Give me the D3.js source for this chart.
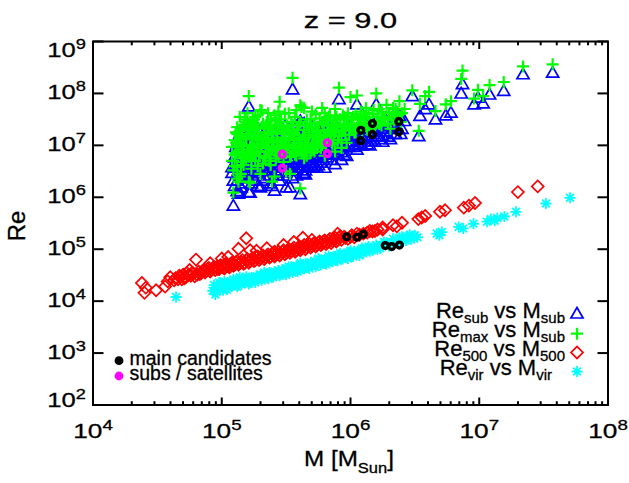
<!DOCTYPE html>
<html><head><meta charset="utf-8">
<script src="https://cdn.jsdelivr.net/npm/d3@7"></script>
<style>html,body{margin:0;padding:0;background:#fff;} svg{display:block;font-family:"Liberation Sans",Arial,Helvetica,sans-serif;} text{stroke:#000;stroke-width:0.3px;}</style>
</head><body><svg id="c" width="629" height="483"></svg>
<script>
// ---------------- DATA (log10 values) ----------------
const titleText = "z = 9.0";
const xTickExps = [4, 5, 6, 7, 8];
const yTickExps = [2, 3, 4, 5, 6, 7, 8, 9];

// [log10 M_sub, log10 Re_sub, log10 Re_max]
const subHalos = [
 [5.08,6.56,6.97],[5.09,5.82,6.09],[5.10,6.75,7.10],[5.09,6.30,6.52],[5.11,6.62,6.85],[5.12,6.10,6.36],[5.08,6.45,6.70],[5.12,6.90,7.22],[5.10,6.20,6.60],[5.13,6.05,6.30],
 [5.14,6.07,6.40],[5.15,6.17,6.45],[5.15,6.60,7.05],[5.16,6.85,7.30],[5.17,6.40,6.80],[5.18,6.95,7.40],[5.17,6.25,6.62],[5.19,6.70,7.15],[5.20,6.50,6.92],[5.18,7.10,7.50],[5.14,6.80,7.18],[5.16,6.35,6.75],
 [5.21,6.08,6.30],[5.21,7.73,7.95],[5.22,6.07,6.28],[5.23,6.65,7.00],[5.24,6.40,6.85],[5.25,6.90,7.35],[5.26,7.05,7.55],[5.27,6.55,6.98],[5.28,6.20,6.60],[5.29,6.78,7.20],[5.24,7.20,7.48],[5.26,6.30,6.70],[5.30,6.17,6.45],[5.30,7.00,7.68],[5.28,6.45,6.88],[5.23,6.95,7.30],
 [5.31,7.30,7.67],[5.32,6.60,7.05],[5.33,6.85,7.25],[5.34,6.35,6.75],[5.35,7.10,7.45],[5.36,6.50,6.95],[5.37,6.95,7.40],[5.38,6.25,6.62],[5.39,6.20,6.30],[5.40,6.75,7.15],[5.41,6.11,6.40],[5.42,7.00,7.52],[5.43,6.60,7.00],[5.44,6.40,6.80],[5.45,6.90,7.84],[5.45,6.46,6.90],[5.35,6.70,7.12],[5.41,7.20,7.58],
 [5.46,7.15,7.50],[5.47,6.55,6.95],[5.48,6.80,7.25],[5.49,7.35,7.61],[5.50,6.17,6.50],[5.51,6.95,7.35],[5.52,6.60,7.02],[5.53,6.17,6.45],[5.54,7.05,7.45],[5.55,8.06,8.30],[5.55,6.50,6.90],[5.56,6.75,7.15],[5.57,7.20,7.55],[5.58,6.40,6.80],[5.59,6.85,7.30],[5.60,6.55,6.95],
 [5.61,6.04,6.17],[5.61,7.45,7.77],[5.62,7.30,7.74],[5.62,6.70,7.10],[5.63,6.45,6.85],[5.64,6.43,6.75],[5.65,6.42,6.90],[5.66,7.00,7.40],[5.67,6.60,7.05],[5.68,6.80,7.25],[5.69,7.15,7.50],[5.70,6.65,7.00],[5.71,6.56,6.92],[5.72,6.95,7.35],[5.73,7.25,7.60],[5.74,6.55,6.95],
 [5.76,6.75,7.15],[5.78,7.05,7.45],[5.79,6.70,7.10],[5.80,7.30,7.62],[5.81,6.85,7.20],[5.83,7.15,7.55],[5.84,6.80,7.18],[5.86,7.00,7.40],[5.88,7.40,7.70],[5.89,6.90,7.28],[5.91,7.87,8.11],[5.92,7.10,7.50],[5.94,7.20,7.58],[5.95,6.95,7.35],
 [5.80,6.55,6.80],[5.88,6.62,6.88],[5.93,6.70,6.95],
 [5.97,6.78,7.05],[5.98,7.15,7.55],[6.00,7.35,7.93],[6.02,7.05,7.42],[6.04,7.25,7.60],[6.05,7.77,7.96],[6.06,7.00,7.35],[6.08,7.30,7.65],[6.10,7.10,7.50],[6.12,7.40,7.72],[6.14,7.05,7.45],
 [6.17,7.25,7.60],[6.20,7.77,8.00],[6.22,7.35,7.70],[6.25,7.15,7.55],[6.28,7.45,7.78],[6.31,7.10,7.32],[6.33,7.40,7.72],[6.36,7.35,7.65],[6.38,7.55,7.85],[6.40,7.30,7.62],
 [5.85,6.70,7.25],[5.95,6.80,7.30],[6.05,6.90,7.35],[6.15,6.98,7.45],[6.25,7.05,7.55],[6.35,7.20,7.60],[5.75,6.60,7.10],[5.65,6.50,7.00],[5.55,6.35,6.95],[5.45,6.30,6.85],
 [6.42,7.45,7.70],[6.48,7.93,8.06],[6.53,7.16,7.28],[6.54,7.55,7.80],[6.58,7.68,7.95],[6.61,7.77,8.03],[6.66,7.48,7.66],[6.74,7.56,7.79],[6.78,7.61,7.85],[6.86,7.98,8.28],[6.87,8.16,8.44],[6.96,7.77,7.90],[6.99,7.90,8.07],[7.03,7.79,7.95],[7.08,7.96,8.16],[7.19,8.03,8.22],[7.34,8.35,8.52],[7.57,8.38,8.56],
 [5.11,6.95,7.25],[5.13,6.50,6.88],[5.15,6.90,7.15],[5.17,6.60,7.00],[5.19,6.35,6.72],[5.20,6.85,7.30],[5.21,6.45,6.78],[5.23,6.25,6.55],[5.25,6.60,6.95],[5.26,6.80,7.18],[5.27,7.10,7.40],[5.29,6.50,6.80],[5.31,6.90,7.10],[5.32,6.30,6.65],[5.33,7.05,7.35],[5.34,6.75,6.98],[5.36,6.85,7.22],[5.37,6.40,6.70],[5.38,7.15,7.48],[5.39,6.65,6.92],[5.40,6.95,7.30],[5.42,6.50,6.75],[5.43,6.80,7.10],[5.44,7.10,7.40],[5.46,6.60,6.85],[5.47,6.90,7.15],[5.48,6.40,6.68],[5.49,7.00,7.28],[5.50,6.70,6.98],[5.52,6.85,7.12],[5.53,6.50,6.78],[5.54,6.70,7.20],[5.56,6.95,7.22],[5.57,6.55,6.82],[5.58,6.80,7.05],[5.60,7.00,7.40],[5.62,6.65,6.88],[5.63,6.95,7.20],[5.65,6.75,7.00],[5.66,6.55,6.80],[5.68,7.05,7.35],[5.69,6.70,6.95],[5.71,6.90,7.18],[5.72,6.60,6.88],[5.74,7.00,7.28],[5.76,6.85,7.05],[5.77,6.65,6.95],[5.79,7.00,7.30],[5.81,6.75,7.00],[5.82,7.10,7.38],[5.84,6.95,7.25],[5.85,7.20,7.48],[5.87,6.85,7.10],[5.89,7.10,7.40],[5.90,6.80,7.05],[5.93,7.00,7.28],[5.96,7.15,7.42],[5.99,6.95,7.20],[6.01,7.20,7.50],[6.03,6.95,7.25],[6.07,7.15,7.42],[6.09,6.98,7.28],[6.11,7.25,7.55],[6.13,7.00,7.30],[6.16,7.15,7.40],[6.19,7.05,7.35],[6.21,7.30,7.55],[6.24,7.10,7.38],[6.27,7.25,7.52],[6.30,7.35,7.62],[6.34,7.20,7.48],[6.37,7.30,7.58],
 [5.10,6.55,6.82],[5.11,6.80,7.05],[5.12,7.00,7.35],[5.12,6.30,6.58],[5.13,6.70,7.02],[5.14,6.95,7.28],[5.15,6.40,6.68],[5.16,6.65,6.92],[5.17,7.05,7.38],[5.18,6.50,6.78],[5.19,6.85,7.12],[5.19,7.15,7.45],[5.20,6.60,6.88],
 [5.21,6.95,7.22],[5.22,6.70,6.98],[5.22,7.10,7.42],[5.23,6.45,6.72],[5.24,6.85,7.12],[5.25,7.20,7.50],[5.25,6.55,6.82],[5.26,6.95,7.25],[5.27,6.70,6.95],[5.28,7.05,7.32],[5.29,6.90,7.15],[5.30,6.60,6.88],
 [5.31,6.75,7.02],[5.32,7.15,7.42],[5.33,6.50,6.78],[5.34,6.95,7.20],[5.35,6.60,6.88],[5.36,7.05,7.32],[5.37,6.80,7.05],[5.38,6.55,6.82],[5.39,7.00,7.25],[5.40,6.85,7.08],
 [5.41,6.65,6.90],[5.42,7.10,7.35],[5.43,6.95,7.22],[5.44,6.70,6.95],[5.45,7.15,7.45],[5.46,6.85,7.05],[5.47,6.65,6.92],[5.48,7.05,7.32],[5.49,6.80,7.08],[5.50,6.60,6.85],
 [5.51,7.10,7.38],[5.52,6.75,7.00],[5.53,6.95,7.25],[5.54,6.55,6.80],[5.55,7.15,7.40],[5.56,6.85,7.10],[5.57,6.70,6.95],[5.58,7.05,7.30],[5.59,6.65,6.90],[5.60,6.90,7.15],
 [5.61,7.15,7.45],[5.62,6.85,7.05],[5.63,6.60,6.85],[5.64,7.05,7.30],[5.65,6.90,7.15],[5.66,7.20,7.50],[5.67,6.75,7.00],[5.68,6.95,7.20],[5.69,6.60,6.85],[5.70,7.10,7.35],
 [5.71,6.80,7.05],[5.72,7.15,7.42],[5.73,6.95,7.15],[5.74,6.75,7.00],[5.75,7.05,7.30],[5.76,7.25,7.52],[5.77,6.90,7.15],[5.78,6.75,7.00],[5.79,7.15,7.40],[5.80,6.95,7.20],
 [5.81,7.25,7.50],[5.82,6.85,7.10],[5.83,7.05,7.30],[5.84,7.30,7.58],[5.85,6.95,7.20],[5.86,6.80,7.02],[5.87,7.15,7.40],[5.88,7.00,7.25],[5.89,7.30,7.55],[5.90,7.10,7.35],
 [5.91,6.95,7.18],[5.92,7.25,7.50],[5.93,6.85,7.10],[5.94,7.05,7.30],[5.95,7.30,7.55],[5.96,6.95,7.20],[5.97,7.15,7.40],[5.98,7.35,7.62],[5.99,7.05,7.30],
 [6.00,7.15,7.40],[6.02,7.30,7.55],[6.04,7.00,7.25],[6.06,7.25,7.50],[6.08,7.10,7.38],[6.10,7.30,7.58],[6.12,7.15,7.40],[6.14,7.35,7.62],[6.16,7.05,7.32],[6.18,7.40,7.68],[6.20,7.20,7.45],
 [6.22,7.15,7.42],[6.24,7.40,7.65],[6.26,7.25,7.50],[6.29,7.15,7.42],[6.32,7.30,7.55],[6.35,7.45,7.70],[6.39,7.20,7.45],
 [5.14,7.20,7.55],[5.20,7.25,7.62],[5.28,7.30,7.58],[5.36,7.25,7.62],[5.44,7.35,7.65],[5.52,7.30,7.62],[5.58,7.35,7.68],[5.64,7.40,7.72],[5.70,7.35,7.65],[5.78,7.40,7.72]
];

// [log10 M_500, log10 Re_500]
const r500Halos = [
 [4.38,4.35],[4.40,4.16],[4.41,4.26],[4.49,4.21],[4.56,4.28],[4.58,4.38],[4.60,4.46],[4.63,4.40],[4.64,4.44],[4.67,4.49],[4.69,4.42],[4.70,4.51],[4.72,4.46],[4.73,4.54],[4.75,4.60],[4.76,4.49],[4.78,4.53],[4.80,4.80],[4.81,4.51],[4.82,4.57],[4.84,4.54],[4.86,4.60],[4.87,4.55],[4.89,4.62],[4.91,4.73],[4.91,4.57],[4.93,4.63],[4.95,4.60],[4.96,4.66],[4.98,4.62],
 [5.00,4.82],[5.00,4.68],[5.02,4.63],[5.04,4.70],[5.06,4.65],[5.07,4.72],[5.09,4.68],[5.11,4.75],[5.13,5.01],[5.13,4.70],[5.15,4.76],[5.17,4.72],[5.19,5.21],[5.19,4.79],[5.21,4.74],[5.23,4.81],[5.25,4.77],[5.27,4.97],[5.27,4.84],[5.29,4.79],[5.31,4.86],[5.33,4.81],[5.35,4.88],[5.37,4.84],[5.39,4.91],[5.41,4.95],[5.41,4.86],[5.43,4.92],[5.45,4.88],[5.47,4.95],[5.49,4.90],
 [5.51,4.97],[5.53,4.93],[5.55,5.00],[5.56,5.14],[5.57,4.95],[5.59,5.02],[5.61,4.98],[5.63,5.22],[5.63,5.05],[5.65,5.00],[5.67,5.07],[5.69,5.03],[5.71,5.10],[5.73,5.05],[5.75,5.12],[5.77,5.08],[5.79,5.15],[5.81,5.10],[5.83,5.17],[5.85,5.12],[5.87,5.19],[5.89,5.15],[5.91,5.22],[5.93,5.18],[5.95,5.24],[5.98,5.20],
 [6.01,5.27],[6.03,5.23],[6.07,5.28],[6.13,5.32],[6.17,5.34],[6.19,5.35],[6.25,5.38],[6.25,5.42],[6.33,5.46],[6.36,5.44],[6.40,5.51],[6.527,5.58],[6.553,5.61],[6.58,5.64],[6.695,5.72],[6.734,5.75],[6.88,5.80],[6.92,5.84],[6.967,5.89],[7.30,6.10],[7.454,6.21],
 [4.66,4.42],[4.68,4.47],[4.71,4.44],[4.74,4.50],[4.77,4.55],[4.79,4.48],[4.83,4.52],[4.85,4.58],[4.88,4.58],[4.90,4.64],[4.92,4.60],[4.94,4.66],[4.97,4.62],[4.99,4.69],[5.01,4.65],[5.03,4.72],[5.05,4.67],[5.08,4.74],[5.10,4.70],[5.12,4.77],[5.14,4.73],[5.16,4.79],[5.18,4.74],[5.20,4.81],[5.22,4.77],[5.24,4.83],[5.26,4.79],[5.28,4.86],[5.30,4.82],[5.32,4.88],[5.34,4.84],[5.36,4.90],[5.38,4.86],[5.40,4.93],[5.42,4.89],[5.44,4.95],[5.46,4.91],[5.48,4.98],[5.50,4.93],[5.52,5.00],[5.54,4.96],[5.56,5.03],[5.58,4.98],[5.60,5.05],[5.62,5.01],[5.64,5.08],[5.66,5.03],[5.68,5.10],[5.70,5.06],[5.72,5.12],[5.74,5.08],[5.76,5.15],[5.78,5.11],[5.80,5.17],[5.82,5.13],[5.84,5.20],[5.86,5.16],[5.88,5.22],[5.90,5.18],[5.92,5.25],[5.96,5.22],[6.00,5.24],[6.05,5.30],[6.10,5.30],[6.15,5.35],[6.21,5.38],
 [5.05,4.85],[5.22,4.98],[5.35,5.02],[5.48,5.08],[5.70,5.18],[5.90,5.30]
];

// [log10 M_vir, log10 Re_vir]
const virHalos = [
 [4.645,4.08],
 [4.93,4.20],[4.94,4.31],[4.95,4.13],[4.97,4.25],[4.99,4.33],[5.01,4.21],[5.03,4.30],[5.05,4.26],[5.06,4.37],[5.08,4.29],[5.10,4.34],[5.11,4.40],[5.13,4.31],[5.15,4.39],[5.16,4.44],[5.18,4.35],[5.20,4.41],[5.22,4.37],[5.23,4.46],[5.25,4.40],[5.27,4.48],[5.28,4.42],[5.30,4.51],[5.32,4.44],[5.34,4.52],[5.35,4.46],[5.37,4.55],[5.39,4.48],[5.41,4.57],[5.42,4.50],[5.44,4.59],[5.46,4.52],[5.47,4.61],[5.49,4.54],
 [5.51,4.63],[5.53,4.57],[5.54,4.66],[5.56,4.59],[5.58,4.68],[5.60,4.61],[5.62,4.70],[5.63,4.63],[5.65,4.72],[5.67,4.66],[5.69,4.75],[5.70,4.68],[5.72,4.77],[5.74,4.70],[5.76,4.79],[5.78,4.73],[5.80,4.81],[5.82,4.75],[5.84,4.84],[5.85,4.78],[5.87,4.86],[5.89,4.80],[5.91,4.89],[5.93,4.83],[5.95,4.91],[5.97,4.85],[5.99,4.94],
 [6.01,4.88],[6.03,4.96],[6.05,4.91],[6.08,4.99],[6.10,4.93],[6.13,5.02],[6.15,4.96],[6.18,5.04],[6.21,5.00],[6.24,5.08],[6.28,5.13],[6.31,5.10],[6.35,5.18],[6.38,5.22],[6.41,5.15],[6.44,5.25],[6.47,5.19],[6.50,5.27],[6.52,5.23],
 [6.67,5.30],[6.69,5.27],[6.71,5.33],[6.84,5.43],[6.875,5.40],[6.955,5.49],[7.06,5.53],[7.09,5.58],[7.12,5.55],[7.14,5.60],[7.195,5.63],[7.285,5.72],[7.518,5.88],[7.705,5.99],
 [4.96,4.18],[4.98,4.36],[5.00,4.27],[5.02,4.38],[5.04,4.22],[5.07,4.32],[5.09,4.42],[5.12,4.28],[5.14,4.46],[5.17,4.36],[5.19,4.47],[5.21,4.33],[5.24,4.43],[5.26,4.36],[5.29,4.47],[5.31,4.40],[5.33,4.55],[5.36,4.43],[5.38,4.52],[5.40,4.46],[5.43,4.55],[5.45,4.49],[5.48,4.58],[5.50,4.51],[5.52,4.66],[5.55,4.55],[5.57,4.64],[5.59,4.57],[5.61,4.73],[5.64,4.62],[5.66,4.69],[5.68,4.63],[5.71,4.72],[5.73,4.66],[5.75,4.82],[5.77,4.70],[5.79,4.77],[5.81,4.71],[5.83,4.87],[5.86,4.76],[5.88,4.84],[5.90,4.78],[5.92,4.92],[5.94,4.81],[5.96,4.88],[5.98,4.82],[6.00,4.97],[6.02,4.86],[6.04,4.93],[6.07,4.88],[6.09,5.02],[6.12,4.95],[6.14,5.05],[6.17,4.98],[6.20,5.08],[6.23,5.02],[6.26,5.14],[6.30,5.06],[6.33,5.20],[6.37,5.12],[6.40,5.24],[6.43,5.17],[6.46,5.28],[6.49,5.22]
];

// main candidates (black)
const mainSubM   = [6.08, 6.17, 6.375];
const mainReSub  = [7.09, 7.21, 7.26];
const mainReMax  = [7.29, 7.42, 7.46];
const mainM500   = [5.97, 6.05, 6.10];
const mainRe500  = [5.24, 5.23, 5.29];
const mainMvir   = [6.27, 6.32, 6.38];
const mainRevir  = [5.07, 5.05, 5.08];
// subs / satellites (magenta)
const satSubM  = [5.47, 5.82];
const satReSub = [6.56, 6.84];
const satReMax = [6.83, 7.05];

const legendLabels = [["Re","sub"," vs M","sub"],["Re","max"," vs M","sub"],["Re","500"," vs M","500"],["Re","vir"," vs M","vir"]];
const legend2Labels = ["main candidates", "subs / satellites"];

// ---------------- DRAWING ----------------
const L = 93, R = 608, T = 41.5, B = 405;
const x = d3.scaleLog().domain([1e4, 1e8]).range([L, R]);
const y = d3.scaleLog().domain([1e2, 1e9]).range([B, T]);
const p = v => Math.pow(10, v);
const svg = d3.select("#c");

const BLUE = "#0000ff", GREEN = "#00ff00", RED = "#ff0000", CYAN = "#00ffff", MAG = "#ff00ff";
const triPath = d3.symbol(d3.symbolTriangle, 64)();
const diaPath = d3.symbol(d3.symbolSquare, 72)();
const plusPath = "M-6,0H6M0,-6V6";
const astPath = "M-5.5,0H5.5M0,-5.5V5.5M-3.9,-3.9L3.9,3.9M-3.9,3.9L3.9,-3.9";

function marks(data, gx, gy, path, color, sw, rot) {
  svg.append("g").selectAll("path").data(data).join("path")
    .attr("d", path)
    .attr("transform", d => `translate(${x(p(gx(d)))},${y(p(gy(d)))})` + (rot ? ` rotate(${rot})` : ""))
    .attr("fill", "none").attr("stroke", color).attr("stroke-width", sw);
}

marks(subHalos, d => d[0], d => d[1], triPath, BLUE, 1.7);
marks(subHalos, d => d[0], d => d[2], plusPath, GREEN, 2.2);
marks(r500Halos, d => d[0], d => d[1], diaPath, RED, 1.7, 45);
marks(virHalos, d => d[0], d => d[1], astPath, CYAN, 1.8);

function rings(ms, rs, color) {
  svg.append("g").selectAll("circle").data(ms.map((m, i) => [m, rs[i]])).join("circle")
    .attr("cx", d => x(p(d[0]))).attr("cy", d => y(p(d[1])))
    .attr("r", 2.9).attr("fill", "none").attr("stroke", color).attr("stroke-width", 3.4);
}
rings(mainSubM, mainReSub, "#000");
rings(mainSubM, mainReMax, "#000");
rings(mainM500, mainRe500, "#000");
rings(mainMvir, mainRevir, "#000");
rings(satSubM, satReSub, MAG);
rings(satSubM, satReMax, MAG);

// axes frame
const ax = svg.append("g").attr("stroke", "#000").attr("fill", "none");
ax.append("rect").attr("x", L).attr("y", T).attr("width", R - L).attr("height", B - T).attr("stroke-width", 2);
xTickExps.forEach(e => {
  const xx = x(p(e));
  ax.append("line").attr("x1", xx).attr("x2", xx).attr("y1", B).attr("y2", B - 7.5).attr("stroke-width", 2);
  ax.append("line").attr("x1", xx).attr("x2", xx).attr("y1", T).attr("y2", T + 7.5).attr("stroke-width", 2);
  if (e < 8) for (let k = 2; k <= 9; k++) {
    const xm = x(k * p(e));
    ax.append("line").attr("x1", xm).attr("x2", xm).attr("y1", B).attr("y2", B - 3.8).attr("stroke-width", 2);
    ax.append("line").attr("x1", xm).attr("x2", xm).attr("y1", T).attr("y2", T + 3.8).attr("stroke-width", 2);
  }
});
yTickExps.forEach(e => {
  const yy = y(p(e));
  ax.append("line").attr("x1", L).attr("x2", L + 10.5).attr("y1", yy).attr("y2", yy).attr("stroke-width", 2);
  ax.append("line").attr("x1", R).attr("x2", R - 10.5).attr("y1", yy).attr("y2", yy).attr("stroke-width", 2);
});

// tick labels
function powLabel(x0, y0, exp, anchor, sx) {
  const t = svg.append("text").attr("transform", `translate(${x0},${y0}) scale(${sx},1)`)
    .attr("text-anchor", anchor).attr("font-size", 21).attr("fill", "#000");
  t.append("tspan").text("10");
  t.append("tspan").attr("font-size", 15).attr("dy", -8).text(exp);
}
xTickExps.forEach(e => powLabel(x(p(e)), 438, e, "middle", 1.25));
yTickExps.forEach(e => {
  const off = e === 9 ? 15 : (e === 2 ? 2 : 5.5);
  powLabel(86, y(p(e)) + off, e, "end", 1.22);
});

// title
svg.append("text").attr("transform", `translate(${(L + R) / 2},27.5) scale(1.4,1)`)
  .attr("text-anchor", "middle").attr("font-size", 22).text(titleText);

// axis titles
const xt = svg.append("text").attr("transform", `translate(349,466) scale(1.1,1)`).attr("text-anchor", "middle").attr("font-size", 22);
xt.append("tspan").text("M [M");
xt.append("tspan").attr("font-size", 15).attr("dy", 6.5).text("Sun");
xt.append("tspan").attr("dy", -6.5).text("]");
svg.append("text").attr("transform", "translate(25,226) rotate(-90)").attr("text-anchor", "middle").attr("font-size", 24).text("Re");

// right legend
const rowBase = [318.3, 336.5, 355.5, 375];
const rowSym = [314.5, 333.7, 352.5, 371.5];
const rowEnd = [565, 565, 565, 552];
const rowPaths = [[triPath, BLUE, 1.7, 0], [plusPath, GREEN, 2.2, 0], [diaPath, RED, 1.7, 45], [astPath, CYAN, 1.8, 0]];
legendLabels.forEach((lab, i) => {
  const t = svg.append("text").attr("x", rowEnd[i]).attr("y", rowBase[i]).attr("text-anchor", "end").attr("font-size", 22);
  t.append("tspan").text(lab[0]);
  t.append("tspan").attr("font-size", 15).attr("dy", 5).text(lab[1]);
  t.append("tspan").attr("dy", -5).text(lab[2]);
  t.append("tspan").attr("font-size", 15).attr("dy", 5).text(lab[3]);
  const s = rowPaths[i];
  svg.append("path").attr("d", s[0]).attr("transform", `translate(577,${rowSym[i]}) rotate(${s[3]})`)
    .attr("fill", "none").attr("stroke", s[1]).attr("stroke-width", s[2]);
});

// left legend
const l2Colors = ["#000", MAG];
const l2Dot = [360.7, 376];
legend2Labels.forEach((lab, i) => {
  svg.append("circle").attr("cx", 119).attr("cy", l2Dot[i]).attr("r", 4.4).attr("fill", l2Colors[i]);
  svg.append("text").attr("x", 129.5).attr("y", l2Dot[i] + 3.8).attr("font-size", 19.5).text(lab);
});
</script></body></html>
